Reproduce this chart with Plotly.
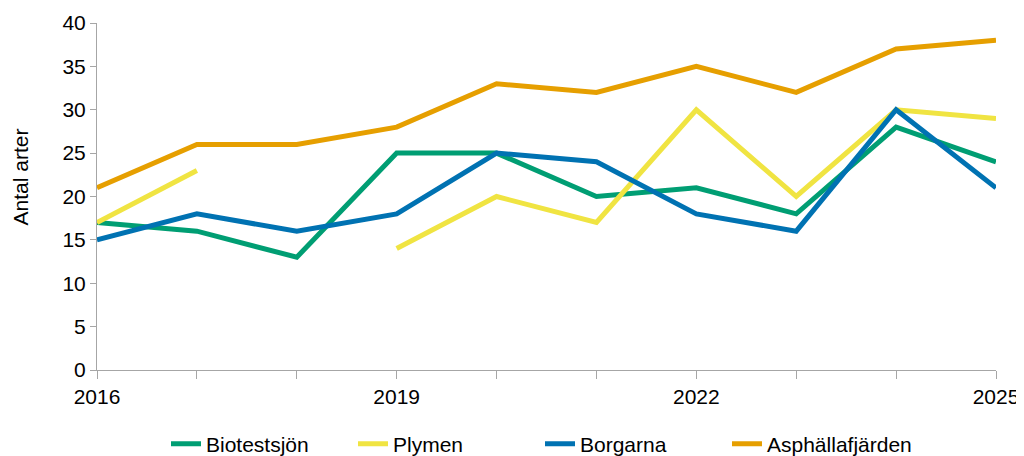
import plotly.graph_objects as go

years = [2016, 2017, 2018, 2019, 2020, 2021, 2022, 2023, 2024, 2025]
biotestsjon = [17, 16, 13, 25, 25, 20, 21, 18, 28, 24]
plymen = [17, 23, None, 14, 20, 17, 30, 20, 30, 29]
borgarna = [15, 18, 16, 18, 25, 24, 18, 16, 30, 21]
asphallafjarden = [21, 26, 26, 28, 33, 32, 35, 32, 37, 38]

series = [
    ("Biotestsjön", biotestsjon, "#009E73"),
    ("Plymen", plymen, "#F0E442"),
    ("Borgarna", borgarna, "#0072B2"),
    ("Asphällafjärden", asphallafjarden, "#E69F00"),
]

tick_labels = {2016: "2016", 2019: "2019", 2022: "2022", 2025: "2025"}
FONT = "Liberation Sans, Arial, sans-serif"

# the page body has an 8px margin, so the figure sits at (8, 8)
W, H = 1016, 448
L, R, T, B = 89, 28, 15, 86
plot_w = W - L - R

fig = go.Figure()
for name, vals, color in series:
    fig.add_trace(go.Scatter(
        x=years, y=vals, name=name, mode="lines",
        line=dict(color=color, width=5), connectgaps=False,
    ))

fig.update_layout(
    width=W, height=H,
    margin=dict(l=L, r=R, t=T, b=B, autoexpand=False),
    plot_bgcolor="white", paper_bgcolor="white",
    showlegend=True,
    legend=dict(orientation="h", x=158 / W, xanchor="left",
                y=(H - 436) / H, yanchor="middle",
                yref="container", xref="container",
                font=dict(family=FONT, size=21, color="#000"),
                entrywidth=142, entrywidthmode="pixels",
                tracegroupgap=0),
    font=dict(family=FONT, color="#000"),
    annotations=[dict(
        text="Antal arter", textangle=-90, xref="paper", yref="paper",
        x=(12 - L) / plot_w, y=0.555, xanchor="center", yanchor="middle",
        showarrow=False, font=dict(family=FONT, size=21, color="#000"),
    )],
)
fig.update_xaxes(
    range=[2016, 2025], tickmode="array", tickvals=years,
    ticktext=[tick_labels.get(y, "") for y in years],
    ticks="outside", ticklen=8, tickcolor="#A6A6A6", tickwidth=1,
    showline=True, linecolor="#A6A6A6", linewidth=1, showgrid=False, zeroline=False,
    tickfont=dict(family=FONT, size=21, color="#000"), automargin=False,
)
fig.update_yaxes(
    range=[0, 40], tickmode="array", tickvals=list(range(0, 45, 5)),
    ticks="outside", ticklen=6, tickcolor="#A6A6A6", tickwidth=1,
    showline=True, linecolor="#A6A6A6", linewidth=1, showgrid=False, zeroline=False,
    tickfont=dict(family=FONT, size=21, color="#000"), automargin=False,
)
fig.write_html("out.html")
